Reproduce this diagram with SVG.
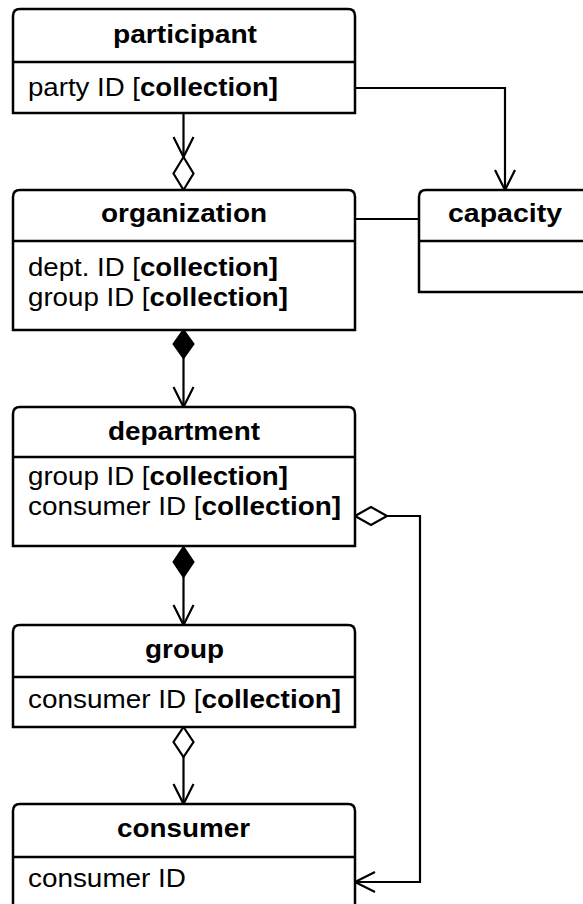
<svg xmlns="http://www.w3.org/2000/svg" width="583" height="904" viewBox="0 0 583 904">
<style>
  .box { fill: #fff; stroke: #000; stroke-width: 2.5; }
  .div { stroke: #000; stroke-width: 2.5; fill: none; }
  .title { font-family: "Liberation Sans", Arial, sans-serif; font-size: 25px; font-weight: bold; fill: #000; }
  .attr { font-family: "Liberation Sans", Arial, sans-serif; font-size: 25px; fill: #000; }
  .b { font-weight: bold; }
  .con { fill: none; stroke: #000; stroke-width: 2.2; }
  .hollow { fill: #fff; stroke: #000; stroke-width: 2.2; }
  .filled { fill: #000; stroke: #000; stroke-width: 2; }
</style>
<defs>
  <marker id="arrow" markerUnits="userSpaceOnUse" viewBox="-24 -14 28 28" refX="0" refY="0" markerWidth="28" markerHeight="28" orient="auto" overflow="visible">
    <path d="M-20,-10 L0,0 L-20,10" fill="none" stroke="#000" stroke-width="2.2"/>
  </marker>
</defs>
<rect width="583" height="904" fill="#fff"/>

<g id="connectors">
  <path class="con" d="M183.5,113 V157" marker-end="url(#arrow)"/>
  <polygon class="hollow" points="183.5,157 193.5,173.5 183.5,190 173.5,173.5"/>
  <path class="con" d="M355,88 H505 V190" marker-end="url(#arrow)"/>
  <path class="con" d="M355,219 H419"/>
  <path class="con" d="M183.5,358 V407" marker-end="url(#arrow)"/>
  <polygon class="filled" points="183.5,330 193.5,344 183.5,358 173.5,344"/>
  <path class="con" d="M183.5,577 V625" marker-end="url(#arrow)"/>
  <polygon class="filled" points="183.5,547 193.5,562 183.5,577 173.5,562"/>
  <path class="con" d="M183.5,757 V804" marker-end="url(#arrow)"/>
  <polygon class="hollow" points="183.5,727 193.5,742 183.5,757 173.5,742"/>
  <path class="con" d="M387,516 H420 V882 H355" marker-end="url(#arrow)"/>
  <polygon class="hollow" points="355,516 371,507 387,516 371,525"/>
</g>

<g id="participant">
  <path class="box" d="M13,113 V16 Q13,9 20,9 H348 Q355,9 355,16 V113 Z"/>
  <path class="div" d="M13,62 H355"/>
  <text class="title" x="113" y="43" textLength="144" lengthAdjust="spacingAndGlyphs">participant</text>
  <text class="attr" x="28" y="96" textLength="250" lengthAdjust="spacingAndGlyphs">party ID [<tspan class="b">collection]</tspan></text>
</g>

<g id="organization">
  <path class="box" d="M13,330 V197 Q13,190 20,190 H348 Q355,190 355,197 V330 Z"/>
  <path class="div" d="M13,241 H355"/>
  <text class="title" x="101" y="222" textLength="166" lengthAdjust="spacingAndGlyphs">organization</text>
  <text class="attr" x="28" y="276" textLength="250" lengthAdjust="spacingAndGlyphs">dept. ID [<tspan class="b">collection]</tspan></text>
  <text class="attr" x="28" y="306" textLength="260" lengthAdjust="spacingAndGlyphs">group ID [<tspan class="b">collection]</tspan></text>
</g>

<g id="capacity">
  <path class="box" d="M419,292 V197 Q419,190 426,190 H600 V292 Z"/>
  <path class="div" d="M419,241 H600"/>
  <text class="title" x="448" y="222" textLength="114" lengthAdjust="spacingAndGlyphs">capacity</text>
</g>

<g id="department">
  <path class="box" d="M13,546 V414 Q13,407 20,407 H348 Q355,407 355,414 V546 Z"/>
  <path class="div" d="M13,457 H355"/>
  <text class="title" x="108" y="440" textLength="152" lengthAdjust="spacingAndGlyphs">department</text>
  <text class="attr" x="28" y="485" textLength="260" lengthAdjust="spacingAndGlyphs">group ID [<tspan class="b">collection]</tspan></text>
  <text class="attr" x="28" y="515" textLength="313" lengthAdjust="spacingAndGlyphs">consumer ID [<tspan class="b">collection]</tspan></text>
</g>

<g id="group">
  <path class="box" d="M13,727 V632 Q13,625 20,625 H348 Q355,625 355,632 V727 Z"/>
  <path class="div" d="M13,677 H355"/>
  <text class="title" x="145" y="658" textLength="79" lengthAdjust="spacingAndGlyphs">group</text>
  <text class="attr" x="28" y="708" textLength="313" lengthAdjust="spacingAndGlyphs">consumer ID [<tspan class="b">collection]</tspan></text>
</g>

<g id="consumer">
  <path class="box" d="M13,915 V811 Q13,804 20,804 H348 Q355,804 355,811 V915 Z"/>
  <path class="div" d="M13,857 H355"/>
  <text class="title" x="117" y="837" textLength="133" lengthAdjust="spacingAndGlyphs">consumer</text>
  <text class="attr" x="28" y="887" textLength="158" lengthAdjust="spacingAndGlyphs">consumer ID</text>
</g>
</svg>
